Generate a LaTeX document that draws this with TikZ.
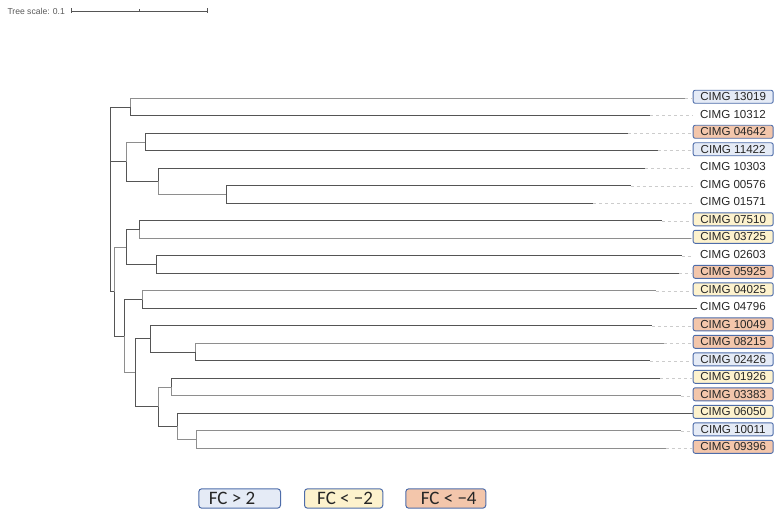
\documentclass[tikz,border=0pt]{standalone}
\usepackage{fontspec}
\setmainfont{Liberation Sans}
\newfontfamily\legendfont{Carlito}
\definecolor{branchdark}{HTML}{555555}
\definecolor{branchlight}{HTML}{8E8E8E}
\definecolor{upfill}{HTML}{E5EBF6}
\definecolor{downfill}{HTML}{FDF2CD}
\definecolor{strongfill}{HTML}{F3C6AB}
\definecolor{boxline}{HTML}{4E6DAA}
\definecolor{labeltext}{HTML}{262626}
\tikzset{
  branch/.style={draw=branchdark, line width=0.9pt},
  branchpale/.style={draw=branchlight, line width=0.9pt},
  guide/.style={draw=black!20, dash pattern=on 3pt off 3pt, line width=0.6pt},
  leaf/.style={anchor=west, minimum width=80pt, minimum height=13pt, inner sep=0pt,
    text=labeltext, font=\fontsize{11.6}{13}\selectfont, yshift=1.5pt},
  upbox/.style={leaf, draw=boxline, fill=upfill, rounded corners=2pt, line width=0.9pt},
  downbox/.style={leaf, draw=boxline, fill=downfill, rounded corners=2pt, line width=0.9pt},
  strongbox/.style={leaf, draw=boxline, fill=strongfill, rounded corners=2pt, line width=0.9pt},
  legendbox/.style={anchor=north west, draw=boxline, rounded corners=3pt, line width=1pt,
    minimum height=19.4pt, inner sep=0pt, text=black!85, font=\legendfont\fontsize{19}{20}\selectfont},
}
\begin{document}
\begin{tikzpicture}[x=1pt,y=-1pt]
\useasboundingbox (0,0) rectangle (782,516);

% scale bar
\node[anchor=west, inner sep=0pt, text=black!65, font=\fontsize{8.6}{10}\selectfont] (scaletext) at (7.3,11) {Tree scale: 0.1};
\coordinate (sb0) at (71.7,11);
\coordinate (sbm) at (139.5,11);
\coordinate (sb1) at (207.3,11);
\draw[branchdark, line width=0.7pt] (sb0) -- (sb1);
\draw[branchdark, line width=0.7pt] ([yshift=2.5pt]sb0) -- ([yshift=-2.5pt]sb0);
\draw[branchdark, line width=0.7pt] ([yshift=1.5pt]sbm) -- ([yshift=-1.5pt]sbm);
\draw[branchdark, line width=0.7pt] ([yshift=2.5pt]sb1) -- ([yshift=-2.5pt]sb1);

% branch tips
\coordinate (t1) at (685,98.3);
\coordinate (t2) at (650,115.8);
\coordinate (t3) at (628,133.3);
\coordinate (t4) at (657.7,150.8);
\coordinate (t5) at (645,168.3);
\coordinate (t6) at (630.7,185.8);
\coordinate (t7) at (593.3,203.3);
\coordinate (t8) at (661.7,220.8);
\coordinate (t9) at (691,238.3);
\coordinate (t10) at (681.7,255.8);
\coordinate (t11) at (679,273.3);
\coordinate (t12) at (655.7,290.8);
\coordinate (t13) at (696.7,308.3);
\coordinate (t14) at (652.3,325.8);
\coordinate (t15) at (664.3,343.3);
\coordinate (t16) at (650,360.8);
\coordinate (t17) at (660,378.3);
\coordinate (t18) at (680.7,395.8);
\coordinate (t19) at (695,413.3);
\coordinate (t20) at (680.7,430.8);
\coordinate (t21) at (665.7,448.3);

% inner nodes
\coordinate (root) at (110.7,107.05);
\coordinate (n1) at (130.7,107.05);
\coordinate (n2) at (145.7,142.05);
\coordinate (n3) at (158.3,181.4);
\coordinate (n4) at (226.7,194.55);
\coordinate (n5) at (126,161.7);
\coordinate (n6) at (139.3,229.55);
\coordinate (n7) at (156,264.55);
\coordinate (n8) at (126.7,247.05);
\coordinate (n9) at (142,299.55);
\coordinate (n10) at (195.7,352.05);
\coordinate (n11) at (150.7,338.9);
\coordinate (n12) at (171,387.05);
\coordinate (n13) at (196,439.55);
\coordinate (n14) at (177.7,426.4);
\coordinate (n15) at (158.3,406.7);
\coordinate (n16) at (135.7,372.8);
\coordinate (n17) at (124.3,336.2);
\coordinate (n18) at (114,291.6);

% inner branches
\draw[branch] (root) |- (n1);
\draw[branch] (root) |- (n5);
\draw[branch] (root) |- (n18);
\draw[branchpale] (n5) |- (n2);
\draw[branch] (n5) |- (n3);
\draw[branchpale] (n3) |- (n4);
\draw[branchpale] (n18) |- (n8);
\draw[branch] (n18) |- (n17);
\draw[branch] (n8) |- (n6);
\draw[branch] (n8) |- (n7);
\draw[branch] (n17) |- (n9);
\draw[branchpale] (n17) |- (n16);
\draw[branch] (n16) |- (n11);
\draw[branch] (n16) |- (n15);
\draw[branch] (n11) |- (n10);
\draw[branchpale] (n15) |- (n12);
\draw[branch] (n15) |- (n14);
\draw[branchpale] (n14) |- (n13);

% leaf branches
\draw[branchpale] (n1) |- (t1);
\draw[branch] (n1) |- (t2);
\draw[branch] (n2) |- (t3);
\draw[branch] (n2) |- (t4);
\draw[branch] (n3) |- (t5);
\draw[branch] (n4) |- (t6);
\draw[branch] (n4) |- (t7);
\draw[branch] (n6) |- (t8);
\draw[branchpale] (n6) |- (t9);
\draw[branch] (n7) |- (t10);
\draw[branch] (n7) |- (t11);
\draw[branchpale] (n9) |- (t12);
\draw[branch] (n9) |- (t13);
\draw[branch] (n11) |- (t14);
\draw[branchpale] (n10) |- (t15);
\draw[branch] (n10) |- (t16);
\draw[branch] (n12) |- (t17);
\draw[branchpale] (n12) |- (t18);
\draw[branch] (n14) |- (t19);
\draw[branchpale] (n13) |- (t20);
\draw[branchpale] (n13) |- (t21);

% labels
\node[upbox] (l1) at (692.7,98.3) {CIMG 13019};
\node[leaf] (l2) at (692.7,115.8) {CIMG 10312};
\node[strongbox] (l3) at (692.7,133.3) {CIMG 04642};
\node[upbox] (l4) at (692.7,150.8) {CIMG 11422};
\node[leaf] (l5) at (692.7,168.3) {CIMG 10303};
\node[leaf] (l6) at (692.7,185.8) {CIMG 00576};
\node[leaf] (l7) at (692.7,203.3) {CIMG 01571};
\node[downbox] (l8) at (692.7,220.8) {CIMG 07510};
\node[downbox] (l9) at (692.7,238.3) {CIMG 03725};
\node[leaf] (l10) at (692.7,255.8) {CIMG 02603};
\node[strongbox] (l11) at (692.7,273.3) {CIMG 05925};
\node[downbox] (l12) at (692.7,290.8) {CIMG 04025};
\node[leaf] (l13) at (692.7,308.3) {CIMG 04796};
\node[strongbox] (l14) at (692.7,325.8) {CIMG 10049};
\node[strongbox] (l15) at (692.7,343.3) {CIMG 08215};
\node[upbox] (l16) at (692.7,360.8) {CIMG 02426};
\node[downbox] (l17) at (692.7,378.3) {CIMG 01926};
\node[strongbox] (l18) at (692.7,395.8) {CIMG 03383};
\node[downbox] (l19) at (692.7,413.3) {CIMG 06050};
\node[upbox] (l20) at (692.7,430.8) {CIMG 10011};
\node[strongbox] (l21) at (692.7,448.3) {CIMG 09396};

% dotted guides from tips to labels
\foreach \i in {1,...,12,14,15,16,17,18,20,21}
  \draw[guide] (t\i) -- ([yshift=-1.5pt]l\i.west);

% legend
\node[legendbox, fill=upfill] (lgup) at (198.3,488.3) {\makebox[81.7pt][l]{\hspace{10pt}FC > 2}};
\node[legendbox, fill=downfill] (lgdown) at (304,488.3) {\makebox[78.3pt][l]{\hspace{12.7pt}FC < −2}};
\node[legendbox, fill=strongfill] (lgstrong) at (405.3,488.3) {\makebox[80pt][l]{\hspace{15pt}FC < −4}};
\end{tikzpicture}
\end{document}
